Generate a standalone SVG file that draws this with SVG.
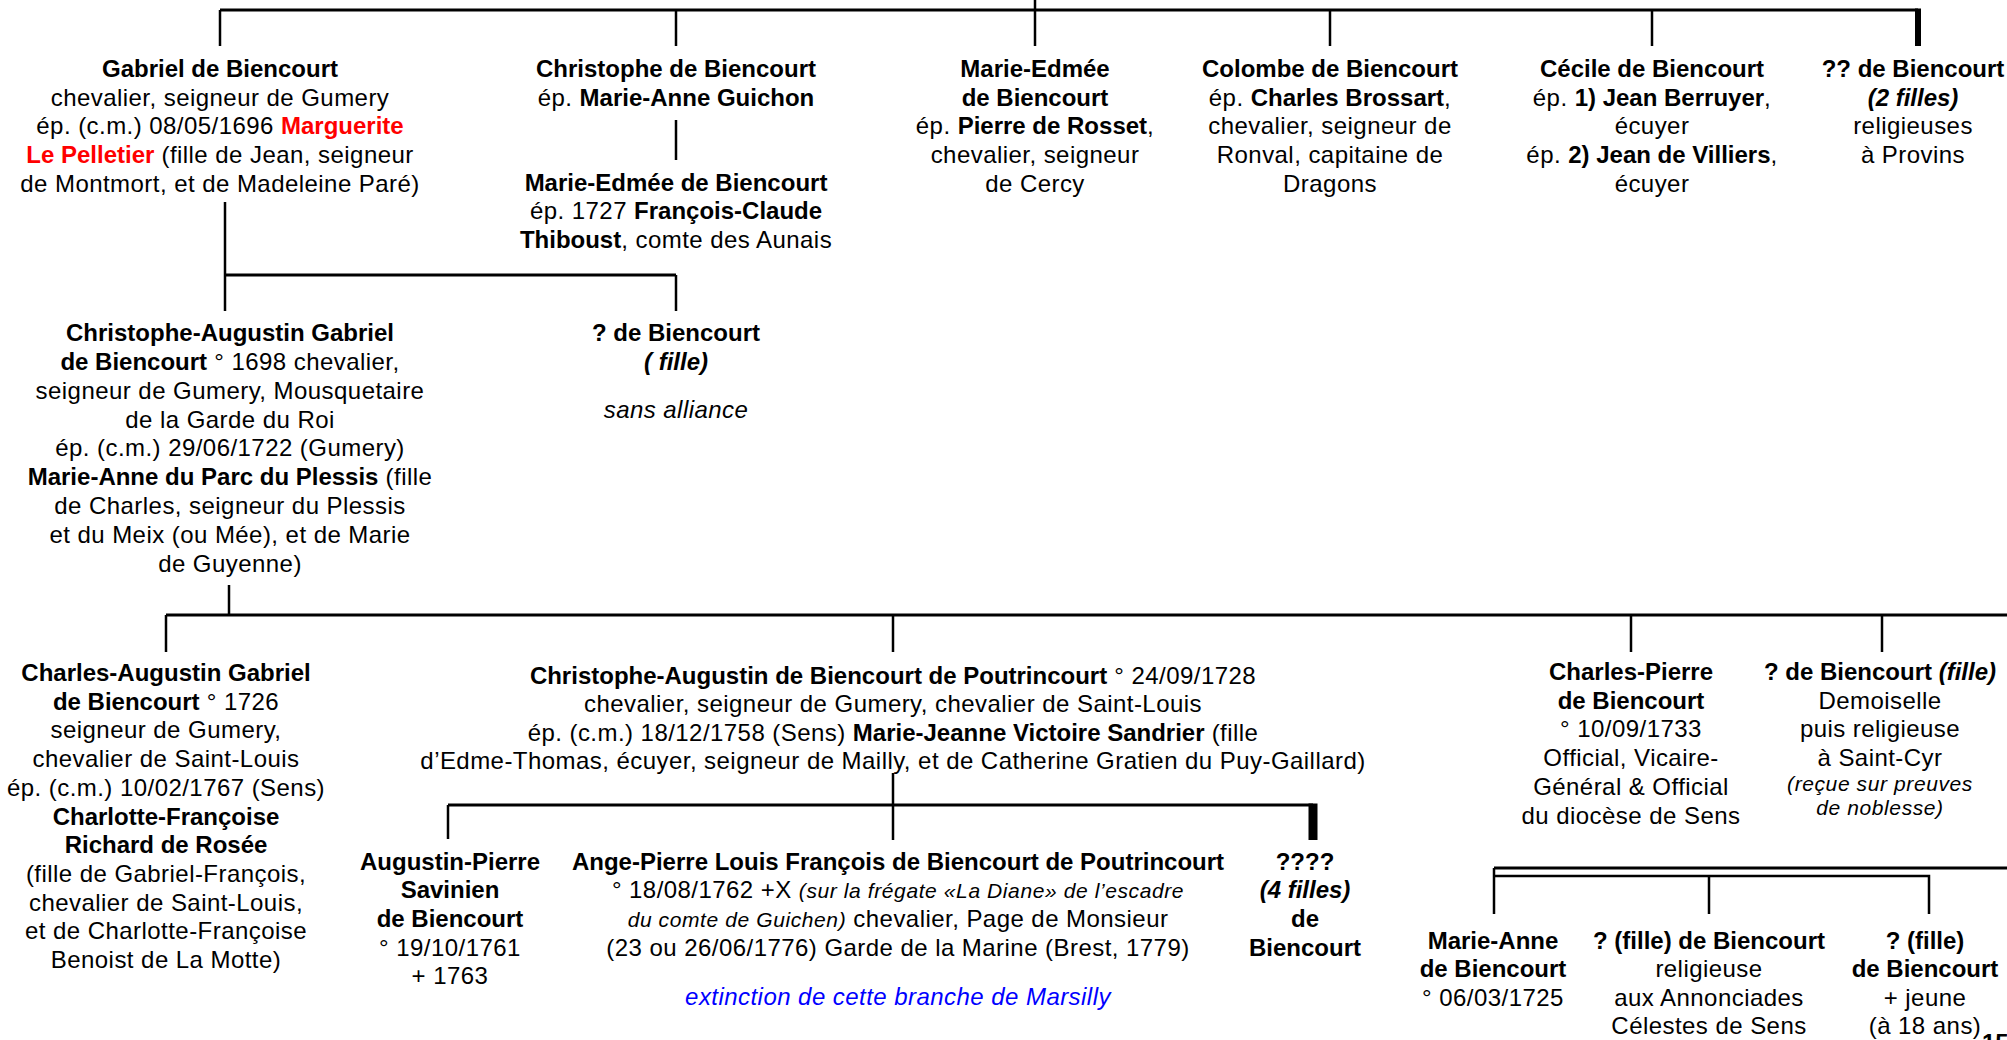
<svg xmlns="http://www.w3.org/2000/svg" width="2007" height="1040" viewBox="0 0 2007 1040">
<style>
.t { font-family: "Liberation Sans", Arial, sans-serif; font-size: 24px; text-anchor: middle; fill: #000; letter-spacing: 0.45px; }
.b { font-weight: bold; letter-spacing: 0; }
.i { font-style: italic; }
.s { font-size: 21px; letter-spacing: 0.6px; }
.red { fill: #FF0000; }
.blue { fill: #0000FF; }
.h { stroke: #000; stroke-width: 3; fill: none; }
.v { stroke: #000; stroke-width: 2.5; fill: none; }
.k { fill: #000; }
</style>
<rect width="2007" height="1040" fill="#fff"/>
<g id="connectors">
  <line class="v" x1="1035" y1="0" x2="1035" y2="46"/>
  <line class="h" x1="220" y1="10" x2="1918" y2="10"/>
  <line class="v" x1="220" y1="10" x2="220" y2="46"/>
  <line class="v" x1="676" y1="10" x2="676" y2="46"/>
  <line class="v" x1="1330" y1="10" x2="1330" y2="46"/>
  <line class="v" x1="1652" y1="10" x2="1652" y2="46"/>
  <rect class="k" x="1915" y="8.5" width="6" height="37.5"/>
  <line class="v" x1="676" y1="120" x2="676" y2="160"/>
  <line class="v" x1="225" y1="202" x2="225" y2="311"/>
  <line class="h" x1="225" y1="275" x2="676" y2="275"/>
  <line class="v" x1="676" y1="275" x2="676" y2="311"/>
  <line class="v" x1="229" y1="585" x2="229" y2="615"/>
  <line class="h" x1="166" y1="615" x2="2007" y2="615"/>
  <line class="v" x1="166" y1="615" x2="166" y2="652"/>
  <line class="v" x1="893" y1="615" x2="893" y2="652"/>
  <line class="v" x1="1631" y1="615" x2="1631" y2="652"/>
  <line class="v" x1="1882" y1="615" x2="1882" y2="652"/>
  <line class="v" x1="893" y1="773" x2="893" y2="840"/>
  <line class="h" x1="448" y1="805" x2="1313" y2="805"/>
  <line class="v" x1="448" y1="805" x2="448" y2="839"/>
  <rect class="k" x="1308.5" y="803.5" width="9" height="36.5"/>
  <line class="h" x1="1494" y1="868" x2="2007" y2="868"/>
  <line class="v" x1="1494" y1="868" x2="1494" y2="914"/>
  <polyline class="v" points="1494,876 1929,876 1929,914"/>
  <line class="v" x1="1709" y1="876" x2="1709" y2="914"/>
</g>
<g id="gabriel">
  <text class="t" x="220" y="77"><tspan class="b">Gabriel de Biencourt</tspan></text>
  <text class="t" x="220" y="105.7">chevalier, seigneur de Gumery</text>
  <text class="t" x="220" y="134.4">ép. (c.m.) 08/05/1696 <tspan class="b red">Marguerite</tspan></text>
  <text class="t" x="220" y="163.1"><tspan class="b red">Le Pelletier</tspan> (fille de Jean, seigneur</text>
  <text class="t" x="220" y="191.8">de Montmort, et de Madeleine Paré)</text>
</g>
<g id="christophe">
  <text class="t" x="676" y="77"><tspan class="b">Christophe de Biencourt</tspan></text>
  <text class="t" x="676" y="105.7">ép. <tspan class="b">Marie-Anne Guichon</tspan></text>
</g>
<g id="marie-edmee-1727">
  <text class="t" x="676" y="190.5"><tspan class="b">Marie-Edmée de Biencourt</tspan></text>
  <text class="t" x="676" y="219">ép. 1727 <tspan class="b">François-Claude</tspan></text>
  <text class="t" x="676" y="247.5"><tspan class="b">Thiboust</tspan>, comte des Aunais</text>
</g>
<g id="marie-edmee">
  <text class="t" x="1035" y="77"><tspan class="b">Marie-Edmée</tspan></text>
  <text class="t" x="1035" y="105.7"><tspan class="b">de Biencourt</tspan></text>
  <text class="t" x="1035" y="134.4">ép. <tspan class="b">Pierre de Rosset</tspan>,</text>
  <text class="t" x="1035" y="163.1">chevalier, seigneur</text>
  <text class="t" x="1035" y="191.8">de Cercy</text>
</g>
<g id="colombe">
  <text class="t" x="1330" y="77"><tspan class="b">Colombe de Biencourt</tspan></text>
  <text class="t" x="1330" y="105.7">ép. <tspan class="b">Charles Brossart</tspan>,</text>
  <text class="t" x="1330" y="134.4">chevalier, seigneur de</text>
  <text class="t" x="1330" y="163.1">Ronval, capitaine de</text>
  <text class="t" x="1330" y="191.8">Dragons</text>
</g>
<g id="cecile">
  <text class="t" x="1652" y="77"><tspan class="b">Cécile de Biencourt</tspan></text>
  <text class="t" x="1652" y="105.7">ép. <tspan class="b">1) Jean Berruyer</tspan>,</text>
  <text class="t" x="1652" y="134.4">écuyer</text>
  <text class="t" x="1652" y="163.1">ép. <tspan class="b">2) Jean de Villiers</tspan>,</text>
  <text class="t" x="1652" y="191.8">écuyer</text>
</g>
<g id="deux-filles">
  <text class="t" x="1913" y="77"><tspan class="b">?? de Biencourt</tspan></text>
  <text class="t" x="1913" y="105.7"><tspan class="b i">(2 filles)</tspan></text>
  <text class="t" x="1913" y="134.4">religieuses</text>
  <text class="t" x="1913" y="163.1">à Provins</text>
</g>
<g id="christophe-augustin-gabriel">
  <text class="t" x="230" y="341.2"><tspan class="b">Christophe-Augustin Gabriel</tspan></text>
  <text class="t" x="230" y="370"><tspan class="b">de Biencourt</tspan> ° 1698 chevalier,</text>
  <text class="t" x="230" y="398.8">seigneur de Gumery, Mousquetaire</text>
  <text class="t" x="230" y="427.6">de la Garde du Roi</text>
  <text class="t" x="230" y="456.4">ép. (c.m.) 29/06/1722 (Gumery)</text>
  <text class="t" x="230" y="485.2"><tspan class="b">Marie-Anne du Parc du Plessis</tspan> (fille</text>
  <text class="t" x="230" y="514">de Charles, seigneur du Plessis</text>
  <text class="t" x="230" y="542.8">et du Meix (ou Mée), et de Marie</text>
  <text class="t" x="230" y="571.6">de Guyenne)</text>
</g>
<g id="fille-sans-alliance">
  <text class="t" x="676" y="341.2"><tspan class="b">? de Biencourt</tspan></text>
  <text class="t" x="676" y="370"><tspan class="b i">( fille)</tspan></text>
  <text class="t" x="676" y="417.5"><tspan class="i">sans alliance</tspan></text>
</g>
<g id="charles-augustin-gabriel">
  <text class="t" x="166" y="681"><tspan class="b">Charles-Augustin Gabriel</tspan></text>
  <text class="t" x="166" y="709.7"><tspan class="b">de Biencourt</tspan> ° 1726</text>
  <text class="t" x="166" y="738.4">seigneur de Gumery,</text>
  <text class="t" x="166" y="767.1">chevalier de Saint-Louis</text>
  <text class="t" x="166" y="795.8">ép. (c.m.) 10/02/1767 (Sens)</text>
  <text class="t" x="166" y="824.5"><tspan class="b">Charlotte-Françoise</tspan></text>
  <text class="t" x="166" y="853.2"><tspan class="b">Richard de Rosée</tspan></text>
  <text class="t" x="166" y="881.9">(fille de Gabriel-François,</text>
  <text class="t" x="166" y="910.6">chevalier de Saint-Louis,</text>
  <text class="t" x="166" y="939.3">et de Charlotte-Françoise</text>
  <text class="t" x="166" y="968">Benoist de La Motte)</text>
</g>
<g id="christophe-augustin-poutrincourt">
  <text class="t" x="893" y="683.5"><tspan class="b">Christophe-Augustin de Biencourt de Poutrincourt</tspan> ° 24/09/1728</text>
  <text class="t" x="893" y="712">chevalier, seigneur de Gumery, chevalier de Saint-Louis</text>
  <text class="t" x="893" y="740.5">ép. (c.m.) 18/12/1758 (Sens) <tspan class="b">Marie-Jeanne Victoire Sandrier</tspan> (fille</text>
  <text class="t" x="893" y="769">d’Edme-Thomas, écuyer, seigneur de Mailly, et de Catherine Gratien du Puy-Gaillard)</text>
</g>
<g id="augustin-pierre">
  <text class="t" x="450" y="869.5"><tspan class="b">Augustin-Pierre</tspan></text>
  <text class="t" x="450" y="898.3"><tspan class="b">Savinien</tspan></text>
  <text class="t" x="450" y="927"><tspan class="b">de Biencourt</tspan></text>
  <text class="t" x="450" y="955.7">° 19/10/1761</text>
  <text class="t" x="450" y="984.4">+ 1763</text>
</g>
<g id="ange-pierre">
  <text class="t" x="898" y="869.5"><tspan class="b">Ange-Pierre Louis François de Biencourt de Poutrincourt</tspan></text>
  <text class="t" x="898" y="898.3">° 18/08/1762 +X <tspan class="i s">(sur la frégate «La Diane» de l’escadre</tspan></text>
  <text class="t" x="898" y="927"><tspan class="i s">du comte de Guichen)</tspan> chevalier, Page de Monsieur</text>
  <text class="t" x="898" y="955.7">(23 ou 26/06/1776) Garde de la Marine (Brest, 1779)</text>
  <text class="t blue" x="898" y="1005"><tspan class="i">extinction de cette branche de Marsilly</tspan></text>
</g>
<g id="quatre-filles">
  <text class="t" x="1305" y="869.5"><tspan class="b">????</tspan></text>
  <text class="t" x="1305" y="898.3"><tspan class="b i">(4 filles)</tspan></text>
  <text class="t" x="1305" y="927"><tspan class="b">de</tspan></text>
  <text class="t" x="1305" y="955.7"><tspan class="b">Biencourt</tspan></text>
</g>
<g id="charles-pierre">
  <text class="t" x="1631" y="680"><tspan class="b">Charles-Pierre</tspan></text>
  <text class="t" x="1631" y="708.7"><tspan class="b">de Biencourt</tspan></text>
  <text class="t" x="1631" y="737.4">° 10/09/1733</text>
  <text class="t" x="1631" y="766.1">Official, Vicaire-</text>
  <text class="t" x="1631" y="794.8">Général &amp; Official</text>
  <text class="t" x="1631" y="823.5">du diocèse de Sens</text>
</g>
<g id="fille-saint-cyr">
  <text class="t" x="1880" y="680"><tspan class="b">? de Biencourt <tspan class="i">(fille)</tspan></tspan></text>
  <text class="t" x="1880" y="708.7">Demoiselle</text>
  <text class="t" x="1880" y="737.4">puis religieuse</text>
  <text class="t" x="1880" y="766.1">à Saint-Cyr</text>
  <text class="t i s" x="1880" y="791">(reçue sur preuves</text>
  <text class="t i s" x="1880" y="815">de noblesse)</text>
</g>
<g id="marie-anne">
  <text class="t" x="1493" y="948.5"><tspan class="b">Marie-Anne</tspan></text>
  <text class="t" x="1493" y="977"><tspan class="b">de Biencourt</tspan></text>
  <text class="t" x="1493" y="1005.5">° 06/03/1725</text>
</g>
<g id="fille-annonciades">
  <text class="t" x="1709" y="948.5"><tspan class="b">? (fille) de Biencourt</tspan></text>
  <text class="t" x="1709" y="977">religieuse</text>
  <text class="t" x="1709" y="1005.5">aux Annonciades</text>
  <text class="t" x="1709" y="1034">Célestes de Sens</text>
</g>
<g id="fille-jeune">
  <text class="t" x="1925" y="948.5"><tspan class="b">? (fille)</tspan></text>
  <text class="t" x="1925" y="977"><tspan class="b">de Biencourt</tspan></text>
  <text class="t" x="1925" y="1005.5">+ jeune</text>
  <text class="t" x="1925" y="1034">(à 18 ans)</text>
</g>
<text class="t b" x="1982" y="1051" style="text-anchor:start">15</text>
</svg>
